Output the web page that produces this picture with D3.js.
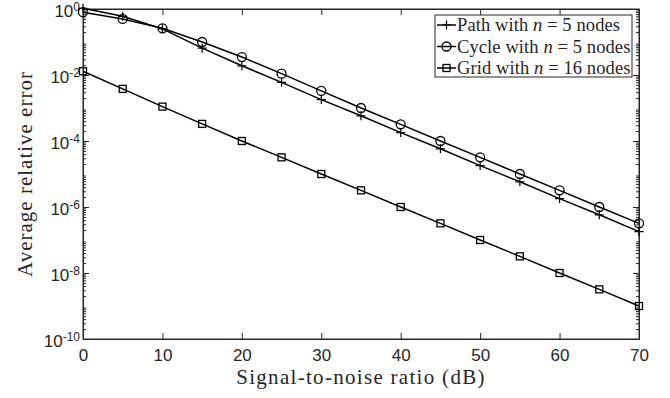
<!DOCTYPE html>
<meta charset="utf-8">
<head>
<title>Average relative error vs SNR</title>
<script src="https://cdnjs.cloudflare.com/ajax/libs/d3/7.8.5/d3.min.js"></script>
<style>
body {margin: 0; background: #fff;}
.tick text {font-family: "Liberation Sans", Arial, sans-serif; font-size: 17px; fill: #262626;}
.lab {font-family: "Liberation Serif", "DejaVu Serif", serif; fill: #262626;}
</style>
</head>
<body>
<script>
// data
var snr   = [0, 5, 10, 15, 20, 25, 30, 35, 40, 45, 50, 55, 60, 65, 70];
var path5 = [1.05, 0.6, 0.25, 0.065, 0.019, 6e-3, 1.8e-3, 5.8e-4, 1.8e-4, 5.8e-5, 1.8e-5, 5.8e-6, 1.8e-6, 5.8e-7, 1.8e-7];
var cyc5  = [0.8, 0.5, 0.26, 0.1, 0.035, 0.011, 3.3e-3, 1e-3, 3.2e-4, 1e-4, 3.2e-5, 1e-5, 3.2e-6, 1e-6, 3.2e-7];
var grid16 = [1.3e-2, 3.8e-3, 1.1e-3, 3.3e-4, 1e-4, 3.2e-5, 1e-5, 3.2e-6, 1e-6, 3.2e-7, 1e-7, 3.2e-8, 1e-8, 3.2e-9, 1e-9];
var xTicks = [0, 10, 20, 30, 40, 50, 60, 70];
var yTicks = [-10, -8, -6, -4, -2, 0];   // exponents

var width = 670, height = 398;
var m = {left: 83, right: 31, top: 9, bottom: 59};
var w = width - m.left - m.right, h = height - m.top - m.bottom;

var svg = d3.select("body").append("svg")
  .attr("width", width).attr("height", height);
var g = svg.append("g").attr("transform", "translate(" + m.left + "," + m.top + ")");

var x = d3.scaleLinear().domain([0, 70]).range([0, w]);
var y = d3.scaleLog().domain([1e-10, 1]).range([h, 0]);

// minor ticks for log axis
var minor = [];
for (var e = -10; e < 0; e++) for (var k = 2; k <= 9; k++) minor.push(k * Math.pow(10, e));

function supLabel(sel) {
  sel.each(function(d) {
    var t = d3.select(this).text("");
    t.append("tspan").text("10");
    t.append("tspan").attr("dy", "-0.5em").style("font-size", "12px").text(Math.round(Math.log10(d)));
  });
}

// bottom axis
g.append("g").attr("transform", "translate(0," + h + ")")
  .call(d3.axisBottom(x).tickValues(xTicks).tickSizeInner(-6).tickSizeOuter(0).tickPadding(10));
// top axis
g.append("g").call(d3.axisTop(x).tickValues(xTicks).tickSizeInner(-6).tickSizeOuter(0).tickFormat(""));
// left axis
var ya = g.append("g")
  .call(d3.axisLeft(y).tickValues(yTicks.map(function(p){return Math.pow(10, p);})).tickSizeInner(-6).tickSizeOuter(0).tickPadding(3));
ya.selectAll(".tick text").attr("dy", "0.45em").call(supLabel);
g.append("g").call(d3.axisLeft(y).tickValues(minor).tickSizeInner(-3).tickSizeOuter(0).tickFormat(""));
// right axis
g.append("g").attr("transform", "translate(" + w + ",0)")
  .call(d3.axisRight(y).tickValues(yTicks.map(function(p){return Math.pow(10, p);})).tickSizeInner(-6).tickSizeOuter(0).tickFormat(""));
g.append("g").attr("transform", "translate(" + w + ",0)")
  .call(d3.axisRight(y).tickValues(minor).tickSizeInner(-3).tickSizeOuter(0).tickFormat(""));

g.selectAll(".domain").attr("stroke", "#262626");
g.selectAll(".tick line").attr("stroke", "#262626");

// box
g.append("rect").attr("width", w).attr("height", h)
  .attr("fill", "none").attr("stroke", "#262626").attr("stroke-width", 1);

// series
var series = [
  {name: "Path", n: "5", vals: path5, marker: "plus"},
  {name: "Cycle", n: "5", vals: cyc5, marker: "circle"},
  {name: "Grid", n: "16", vals: grid16, marker: "square"}
];

var line = d3.line().x(function(d){return x(d[0]);}).y(function(d){return y(d[1]);});

function drawMarker(sel, type) {
  if (type === "plus") {
    sel.append("path").attr("d", "M-4.5,0H4.5M0,-4.5V4.5").attr("stroke", "#000").attr("stroke-width", 1.2);
  } else if (type === "circle") {
    sel.append("circle").attr("r", 4.5).attr("fill", "none").attr("stroke", "#000").attr("stroke-width", 1.3);
  } else {
    sel.append("rect").attr("x", -3.5).attr("y", -3.5).attr("width", 7).attr("height", 7)
      .attr("fill", "none").attr("stroke", "#000").attr("stroke-width", 1.3);
  }
}

series.forEach(function(s) {
  var pts = snr.map(function(v, i){return [v, s.vals[i]];});
  g.append("path").datum(pts).attr("d", line)
    .attr("fill", "none").attr("stroke", "#000").attr("stroke-width", 1.5);
  g.selectAll(null).data(pts).enter().append("g")
    .attr("transform", function(d){return "translate(" + x(d[0]) + "," + y(d[1]) + ")";})
    .each(function(){ drawMarker(d3.select(this), s.marker); });
});

// legend
var lg = g.append("g").attr("transform", "translate(" + (w - 204) + ",6)");
lg.append("rect").attr("width", 197).attr("height", 62)
  .attr("fill", "#fff").attr("stroke", "#262626").attr("stroke-width", 1);
series.forEach(function(s, i) {
  var row = lg.append("g").attr("transform", "translate(0," + (10 + i * 21.5) + ")");
  row.append("path").attr("d", "M2,0H21").attr("stroke", "#000").attr("stroke-width", 1.5);
  var mk = row.append("g").attr("transform", "translate(11.5,0)");
  drawMarker(mk, s.marker);
  var t = row.append("text").attr("class", "lab").attr("x", 22).attr("y", 6)
    .attr("font-size", "18.5px").attr("letter-spacing", "0.1px");
  t.append("tspan").text(s.name + " with ");
  t.append("tspan").attr("font-style", "italic").text("n");
  t.append("tspan").text(" = " + s.n + " nodes");
});

// axis labels
svg.append("text").attr("class", "lab").attr("font-size", "21px").attr("letter-spacing", "1.3px")
  .attr("text-anchor", "middle")
  .attr("x", m.left + w / 2).attr("y", 384)
  .text("Signal-to-noise ratio (dB)");
svg.append("text").attr("class", "lab").attr("font-size", "21px").attr("letter-spacing", "1px")
  .attr("text-anchor", "middle")
  .attr("transform", "translate(32," + (m.top + h / 2) + ") rotate(-90)")
  .text("Average relative error");
</script>
</body>
